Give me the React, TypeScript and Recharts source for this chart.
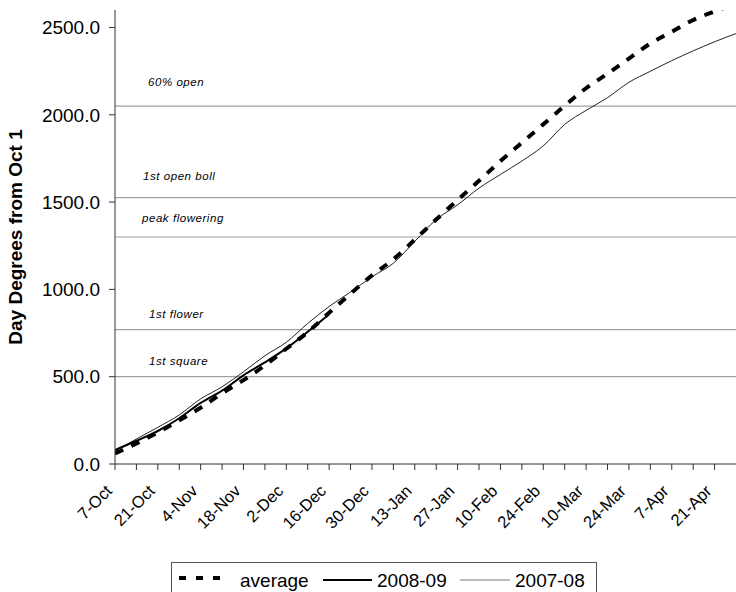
import { LineChart, Line, XAxis, YAxis, ReferenceLine } from 'recharts';

// days counted from 7-Oct, one entry per week
const weekDays = [0, 7, 14, 21, 28, 35, 42, 49, 56, 63, 70, 77, 84, 91, 98, 105, 112, 119, 126, 133, 140, 147, 154, 161, 168, 175, 182, 189, 196, 203];
const dateLabels = ['7-Oct', '21-Oct', '4-Nov', '18-Nov', '2-Dec', '16-Dec', '30-Dec', '13-Jan', '27-Jan', '10-Feb', '24-Feb', '10-Mar', '24-Mar', '7-Apr', '21-Apr'];

const average = [60, 118, 180, 250, 322, 405, 480, 565, 660, 755, 866, 975, 1080, 1172, 1285, 1400, 1512, 1622, 1735, 1840, 1945, 2052, 2152, 2235, 2322, 2408, 2475, 2543, 2592, 2640];
const season0809 = [80, 133, 189, 262, 350, 420, 508, 582, 662, 757, 858];
const season0708 = [75, 143, 210, 281, 373, 442, 528, 620, 697, 805, 902, 985, 1072, 1150, 1275, 1400, 1484, 1580, 1658, 1735, 1822, 1945, 2025, 2098, 2186, 2249, 2310, 2366, 2418, 2465];

const yTicks = [0, 500, 1000, 1500, 2000, 2500];
const stageNames = ['60% open', '1st open boll', 'peak flowering', '1st flower', '1st square'];
const stageLevels = [2050, 1525, 1300, 770, 500];
// where each stage caption sits relative to its line
const stageLabelOffsets = [
  { dx: 33, dy: -24 },
  { dx: 28, dy: -22 },
  { dx: 27, dy: -19 },
  { dx: 34, dy: -16 },
  { dx: 34, dy: -16 },
];

const chartData = weekDays.map((d, i) => ({
  d,
  average: average[i],
  s0809: i < season0809.length ? season0809[i] : null,
  s0708: season0708[i],
}));

const FONT = '"Liberation Sans", Arial, sans-serif';

function DateTick({ x, y, payload }: any) {
  const i = weekDays.indexOf(payload.value);
  if (i < 0 || i % 2 !== 0) return <g />;
  const ax = x - 2;
  const ay = y + 20;
  return (
    <text
      x={ax}
      y={ay}
      transform={`rotate(-45 ${ax} ${ay})`}
      textAnchor="end"
      fontSize={16.5}
      fontFamily={FONT}
      fill="#000"
    >
      {dateLabels[i / 2]}
    </text>
  );
}

function stageLabel(idx: number) {
  return (props: any) => {
    const vb = props.viewBox || {};
    const o = stageLabelOffsets[idx];
    return (
      <text
        x={vb.x + o.dx}
        y={vb.y + o.dy}
        dominantBaseline="central"
        fontSize={11.5}
        fontStyle="italic"
        letterSpacing={0.55}
        fontFamily={FONT}
        fill="#000"
      >
        {stageNames[idx]}
      </text>
    );
  };
}

function LegendBox() {
  return (
    <svg
      width={427}
      height={32}
      style={{ position: 'absolute', left: 171, top: 562 }}
      fontFamily={FONT}
    >
      <rect x={0.5} y={0.5} width={425} height={30} fill="#fff" stroke="#555" />
      <line x1={8} y1={16} x2={51} y2={16} stroke="#000" strokeWidth={4} strokeDasharray="7 10" />
      <text x={69} y={24.5} fontSize={19}>average</text>
      <line x1={152} y1={18} x2={201} y2={18} stroke="#000" strokeWidth={1.8} />
      <text x={206} y={24.5} fontSize={19}>2008-09</text>
      <line x1={289} y1={18} x2={339} y2={18} stroke="#777" strokeWidth={1} />
      <text x={344} y={24.5} fontSize={19}>2007-08</text>
    </svg>
  );
}

export default function App() {
  return (
    <div style={{ position: 'absolute', left: 0, top: 0, width: 736, height: 592, background: '#fff' }}>
      <LineChart
        width={736}
        height={592}
        data={chartData}
        margin={{ top: 10, right: 0, left: 0, bottom: 0 }}
      >
        <XAxis
          dataKey="d"
          type="number"
          domain={[0, 203]}
          ticks={weekDays.slice(0, 29)}
          interval={0}
          height={128}
          tick={<DateTick />}
          tickSize={6}
          stroke="#333"
          allowDataOverflow
        />
        <YAxis
          type="number"
          domain={[0, 2600]}
          ticks={yTicks}
          width={115}
          tickSize={6}
          tickMargin={9}
          stroke="#333"
          allowDataOverflow
          tickFormatter={(v: number) => v.toFixed(1)}
          tick={{ fontSize: 19, fontFamily: FONT, fill: '#000' }}
          label={{
            value: 'Day Degrees from Oct 1',
            angle: -90,
            position: 'insideLeft',
            offset: 15,
            textAnchor: 'middle',
            style: { fontSize: 19, fontWeight: 'bold', fontFamily: FONT, fill: '#000' },
          }}
        />
        {stageLevels.map((lvl, i) => (
          <ReferenceLine
            key={stageNames[i]}
            y={lvl}
            stroke="#a0a0a0"
            strokeWidth={1.2}
            label={stageLabel(i)}
          />
        ))}
        <Line
          dataKey="s0708"
          type="monotone"
          stroke="#222"
          strokeWidth={1}
          dot={false}
          isAnimationActive={false}
        />
        <Line
          dataKey="s0809"
          type="monotone"
          stroke="#000"
          strokeWidth={2}
          dot={false}
          isAnimationActive={false}
        />
        <Line
          dataKey="average"
          type="monotone"
          stroke="#000"
          strokeWidth={4}
          strokeDasharray="9 9"
          dot={false}
          isAnimationActive={false}
        />
      </LineChart>
      <LegendBox />
    </div>
  );
}
